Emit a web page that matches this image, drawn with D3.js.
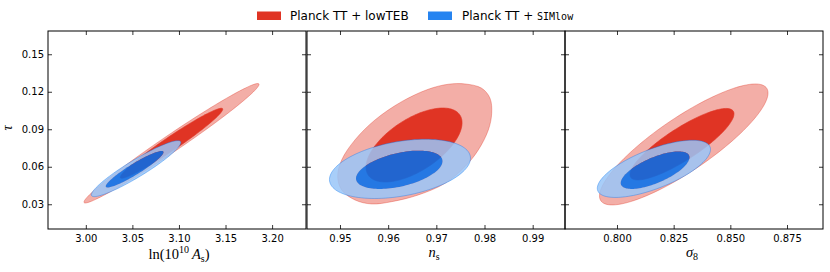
<!DOCTYPE html>
<html><head><meta charset="utf-8">
<script src="https://cdn.jsdelivr.net/npm/d3@7"></script>
<style>body{margin:0;background:#fff}</style>
</head><body><svg id="c" width="830" height="272"></svg>
<script>
// ---------- data ----------
const panelKeys = ["ln10As", "ns", "sigma8"];
const xDomains = [[2.9594, 3.2364], [0.94315, 0.99671], [0.77706, 0.89088]];
const yDomain = [0.0102, 0.1686];
const xTicks = [[3.00, 3.05, 3.10, 3.15, 3.20], [0.95, 0.96, 0.97, 0.98, 0.99], [0.800, 0.825, 0.850, 0.875]];
const xTickFormats = [".2f", ".2f", ".3f"];
const yTicks = [0.03, 0.06, 0.09, 0.12, 0.15];
const seriesNames = ["Planck TT + lowTEB", "Planck TT + "];
const seriesSuffix = ["", "SIMlow"];
const seriesColors = ["#E03424", "#006FED"];
// contour summaries per panel: [meanX, halfWidthX, meanY, halfWidthY, correlation]
const redOuter  = [[3.092, 0.094, 0.0788, 0.0478, 0.985], null, [0.82945, 0.03717, 0.07784, 0.0484, 0.85]];
const redInner  = [[3.092, 0.055, 0.0788, 0.0280, 0.972], [0.96537, 0.00997, 0.0774, 0.0296, 0.60], [0.82867, 0.02294, 0.07804, 0.0286, 0.85]];
const blueOuter = [[3.054, 0.048, 0.0585, 0.0224, 0.934], [0.96245, 0.01464, 0.0583, 0.0237, 0.36], [0.81628, 0.02497, 0.05832, 0.02288, 0.68]];
const blueInner = [[3.0524, 0.031, 0.0580, 0.0146, 0.934], [0.9623, 0.00898, 0.05756, 0.01532, 0.45], [0.8168, 0.01517, 0.05724, 0.0150, 0.68]];
// the n_s–tau 95% contour of the first series is not elliptical: boundary points (n_s, tau)
const redOuterNsTau = [
  [0.97595, 0.12624], [0.97942, 0.1228], [0.98114, 0.1148], [0.98149, 0.1028], [0.98079, 0.08944],
  [0.97871, 0.07344], [0.97595, 0.06008], [0.9718, 0.0468], [0.96625, 0.03744], [0.96073, 0.03208],
  [0.95658, 0.03024], [0.95311, 0.03344], [0.95035, 0.04144], [0.94952, 0.05208], [0.95035, 0.06544],
  [0.95311, 0.08144], [0.95727, 0.09744], [0.96281, 0.11208], [0.96833, 0.122], [0.97248, 0.126]
];

// ---------- layout ----------
const svg = d3.select("#c");
const panelLeft = [48, 307, 565];
const panelW = 258;
const plotTop = 31, plotBottom = 229;
const y = d3.scaleLinear().domain(yDomain).range([plotBottom, plotTop]);

function paleColor(c, f) {
  const r = d3.rgb(c);
  return d3.rgb(r.r * (1 - f) + 255 * f, r.g * (1 - f) + 255 * f, r.b * (1 - f) + 255 * f).formatHex();
}

function ellipsePath(p, x) {
  const [mx, sx, my, sy, rho] = p;
  const q = Math.sqrt(1 - rho * rho);
  const pts = d3.range(0, 120).map(i => {
    const t = i / 120 * 2 * Math.PI;
    return [x(mx + sx * Math.cos(t)), y(my + sy * (rho * Math.cos(t) + q * Math.sin(t)))];
  });
  return d3.line().curve(d3.curveLinearClosed)(pts);
}
function pointsPath(pts, x) {
  return d3.line().x(d => x(d[0])).y(d => y(d[1])).curve(d3.curveCatmullRomClosed.alpha(0.5))(pts);
}

panelKeys.forEach((key, i) => {
  const x0 = panelLeft[i];
  const x = d3.scaleLinear().domain(xDomains[i]).range([x0, x0 + panelW]);
  const g = svg.append("g");
  const clipId = "clip" + i;
  svg.append("clipPath").attr("id", clipId).append("rect")
    .attr("x", x0).attr("y", plotTop).attr("width", panelW).attr("height", plotBottom - plotTop);
  const cg = g.append("g").attr("clip-path", `url(#${clipId})`);

  // red (first series, opaque)
  const rO = redOuter[i] ? ellipsePath(redOuter[i], x) : pointsPath(redOuterNsTau, x);
  const rI = ellipsePath(redInner[i], x);
  cg.append("path").attr("d", rO).attr("fill", paleColor(seriesColors[0], 0.6))
    .attr("stroke", seriesColors[0]).attr("stroke-opacity", 0.45).attr("stroke-width", 0.8);
  cg.append("path").attr("d", rI).attr("fill", seriesColors[0])
    .attr("stroke", seriesColors[0]).attr("stroke-width", 0.6);

  // blue (second series, alpha 0.85)
  const bO = ellipsePath(blueOuter[i], x), bI = ellipsePath(blueInner[i], x);
  cg.append("path").attr("d", bO + bI).attr("fill-rule", "evenodd")
    .attr("fill", paleColor(seriesColors[1], 0.6)).attr("fill-opacity", 0.85);
  cg.append("path").attr("d", bI).attr("fill", seriesColors[1]).attr("fill-opacity", 0.85);
  cg.append("path").attr("d", bO).attr("fill", "none")
    .attr("stroke", seriesColors[1]).attr("stroke-opacity", 0.45).attr("stroke-width", 0.8);

  // axes (inward ticks on all sides)
  const fmt = d3.format(xTickFormats[i]);
  g.append("g").attr("transform", `translate(0,${plotBottom})`)
    .call(d3.axisBottom(x).tickValues(xTicks[i]).tickFormat(fmt).tickSizeInner(-4).tickSizeOuter(0).tickPadding(6));
  g.append("g").attr("transform", `translate(0,${plotTop})`)
    .call(d3.axisTop(x).tickValues(xTicks[i]).tickFormat("").tickSizeInner(-4).tickSizeOuter(0));
  g.append("g").attr("transform", `translate(${x0},0)`)
    .call(d3.axisLeft(y).tickValues(yTicks).tickFormat(i === 0 ? d3.format(".2f") : "").tickSizeInner(-4).tickSizeOuter(0).tickPadding(4));
  g.append("g").attr("transform", `translate(${x0 + panelW},0)`)
    .call(d3.axisRight(y).tickValues(yTicks).tickFormat("").tickSizeInner(-4).tickSizeOuter(0));
  g.selectAll(".domain").remove();
  g.selectAll(".tick line").attr("stroke", "#000").attr("stroke-width", 0.8);
  g.selectAll(".tick text").attr("font-family", "DejaVu Sans").attr("font-size", 10).attr("fill", "#000");

  g.append("rect").attr("x", x0).attr("y", plotTop).attr("width", panelW).attr("height", plotBottom - plotTop)
    .attr("fill", "none").attr("stroke", "#000").attr("stroke-width", 1);
});

// axis labels
const serif = "Liberation Serif";
const labY = 258.5;
const lab1 = svg.append("text").attr("x", 179).attr("y", labY).attr("text-anchor", "middle")
  .attr("font-family", serif).attr("font-size", 14.5);
lab1.append("tspan").text("ln(10");
lab1.append("tspan").attr("font-size", 10).attr("dy", -6).text("10");
lab1.append("tspan").attr("dy", 6).attr("font-style", "italic").text("\u2009A");
lab1.append("tspan").attr("font-size", 10).attr("dy", 3).text("s");
lab1.append("tspan").attr("dy", -3).text(")");

const lab2 = svg.append("text").attr("x", 434).attr("y", labY - 1.5).attr("text-anchor", "middle")
  .attr("font-family", serif).attr("font-size", 14.5);
lab2.append("tspan").attr("font-style", "italic").text("n");
lab2.append("tspan").attr("font-size", 10).attr("dy", 3).text("s");

const lab3 = svg.append("text").attr("x", 692).attr("y", labY - 1.5).attr("text-anchor", "middle")
  .attr("font-family", serif).attr("font-size", 14.5);
lab3.append("tspan").attr("font-style", "italic").text("σ");
lab3.append("tspan").attr("font-size", 10).attr("dy", 3).text("8");

svg.append("text").attr("transform", "translate(12,128) rotate(-90)").attr("text-anchor", "middle")
  .attr("font-family", serif).attr("font-style", "italic").attr("font-size", 14.5).text("τ");

// legend
const legX = [257, 428], legTextX = [290, 462];
seriesNames.forEach((n, k) => {
  svg.append("rect").attr("x", legX[k]).attr("y", 11.5).attr("width", 24).attr("height", 8.5)
    .attr("fill", seriesColors[k]).attr("fill-opacity", k === 0 ? 1 : 0.85);
  const t = svg.append("text").attr("x", legTextX[k]).attr("y", 20)
    .attr("font-family", "DejaVu Sans").attr("font-size", 12).attr("fill", "#000").text(n);
  if (seriesSuffix[k]) t.append("tspan").attr("font-family", "DejaVu Sans Mono").attr("font-size", 10).text(seriesSuffix[k]);
});
</script></body></html>
